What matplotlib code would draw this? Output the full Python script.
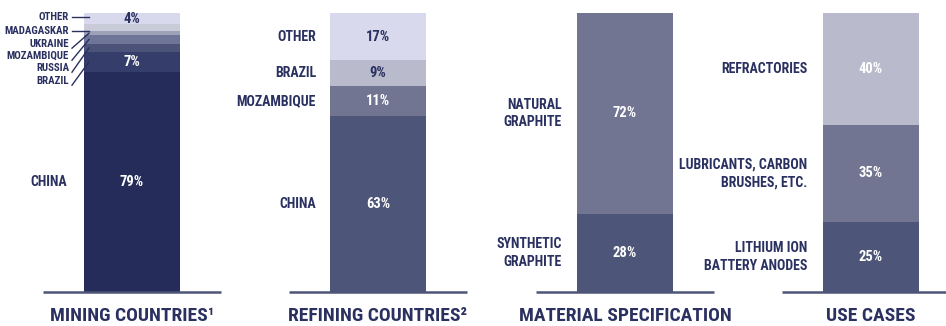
import matplotlib
matplotlib.use("Agg")
import matplotlib.pyplot as plt
from matplotlib import font_manager
from matplotlib.font_manager import FontProperties

# data
mining_labels = ["CHINA", "BRAZIL", "RUSSIA", "MOZAMBIQUE", "UKRAINE", "MADAGASKAR", "OTHER"]
mining_values = [79, 7, 3, 3, 1.5, 2.5, 4]
refining_labels = ["CHINA", "MOZAMBIQUE", "BRAZIL", "OTHER"]
refining_values = [63, 11, 9, 17]
material_labels = ["SYNTHETIC\nGRAPHITE", "NATURAL\nGRAPHITE"]
material_values = [28, 72]
use_labels = ["LITHIUM ION\nBATTERY ANODES", "LUBRICANTS, CARBON\nBRUSHES, ETC.", "REFRACTORIES"]
use_values = [25, 35, 40]
titles = ["MINING COUNTRIES\u00b9", "REFINING COUNTRIES\u00b2", "MATERIAL SPECIFICATION", "USE CASES"]


# pick a narrow bold face, best first
def find_font():
    prefs = ["robotocondensed-bold", "liberationsansnarrow-bold", "dejavusanscondensed-bold",
             "condensed-bold", "narrow-bold", "condensed", "narrow"]
    files = [f.fname for f in font_manager.fontManager.ttflist]
    for p in prefs:
        for fn in files:
            if p in fn.lower().replace(" ", "").replace("_", "-"):
                return fn
    return None


cond = find_font()
if cond:
    kind = cond.lower()
    scale = 1.0 if ("roboto" in kind or "narrow" in kind) else 0.88
else:
    scale = 0.78


def fp(size):
    if cond:
        return FontProperties(fname=cond, size=size * scale)
    return FontProperties(family="DejaVu Sans", weight="bold", size=size * scale)


navy = "#2a3060"
mining_colors = ["#252c5a", "#353d6b", "#4b5379", "#6e7596", "#9ea2b8", "#c9cbd9", "#d8d9ec"]
refining_colors = ["#4d5578", "#717592", "#b9bbcc", "#d8d9ec"]
material_colors = ["#4d5578", "#717592"]
use_colors = ["#4d5578", "#717592", "#b9bbcc"]

fig = plt.figure(figsize=(9.46, 3.26), dpi=100)
ax = fig.add_axes([0, 34 / 326, 1, 279 / 326])
ax.set_xlim(0, 946)
ax.set_ylim(0, 100)
ax.axis("off")

centers = [132, 378, 625, 871]
bw = 96


def stack(xc, values, colors):
    bottom = 0
    mids = []
    for v, c in zip(values, colors):
        ax.bar(xc, v, bw, bottom=bottom, color=c, linewidth=0)
        mids.append(bottom + v / 2)
        bottom += v
    return mids


def baseline(xc):
    ax.plot([xc - 89, xc + 89], [0, 0], color="#4d5578", lw=1.8,
            clip_on=False, solid_capstyle="butt")


lab_kw = dict(color=navy, ha="right", va="center", linespacing=1.3)
pct_kw = dict(ha="center", va="center")
lab_size = 10
pct_size = 10.5

# mining
mids = stack(centers[0], mining_values, mining_colors)
ax.text(centers[0], mids[0], "79%", color="white", fontproperties=fp(pct_size), **pct_kw)
ax.text(centers[0], mids[1], "7%", color="white", fontproperties=fp(pct_size), **pct_kw)
ax.text(centers[0], mids[6], "4%", color=navy, fontproperties=fp(pct_size), **pct_kw)
ax.text(67, mids[0], "CHINA", fontproperties=fp(lab_size), **lab_kw)
small_y = [100 - (v - 13) / 279 * 100 for v in [81, 68, 56, 44, 31, 17]]
for i, lab in enumerate(["BRAZIL", "RUSSIA", "MOZAMBIQUE", "UKRAINE", "MADAGASKAR", "OTHER"]):
    ax.text(69, small_y[i], lab, color=navy, fontproperties=fp(7.8),
            ha="right", va="center")
    ty = small_y[i] if i >= 4 else mids[i + 1]
    ax.plot([72, 89], [small_y[i] + (0 if i >= 4 else -1.5), ty], color=navy, lw=1,
            clip_on=False)

# refining
mids = stack(centers[1], refining_values, refining_colors)
for m, v, tc, lab in zip(mids, refining_values, ["white", "white", navy, navy], refining_labels):
    ax.text(centers[1], m, f"{v}%", color=tc, fontproperties=fp(pct_size), **pct_kw)
    ax.text(316, m, lab, fontproperties=fp(lab_size), **lab_kw)

# material
mids = stack(centers[2], material_values, material_colors)
for m, v, lab in zip(mids, material_values, material_labels):
    ax.text(centers[2], m, f"{v}%", color="white", fontproperties=fp(pct_size), **pct_kw)
    ax.text(562, m, lab, fontproperties=fp(lab_size), **lab_kw)

# use cases
mids = stack(centers[3], use_values, use_colors)
for m, v, lab in zip(mids, use_values, use_labels):
    ax.text(centers[3], m, f"{v}%", color="white", fontproperties=fp(pct_size), **pct_kw)
    ax.text(807, m, lab, fontproperties=fp(lab_size), **lab_kw)

for xc, t in zip(centers, titles):
    baseline(xc)
    ax.text(xc, -8.6, t, color=navy, fontproperties=fp(14),
            ha="center", va="center", clip_on=False)

fig.savefig("out.png", dpi=100)
